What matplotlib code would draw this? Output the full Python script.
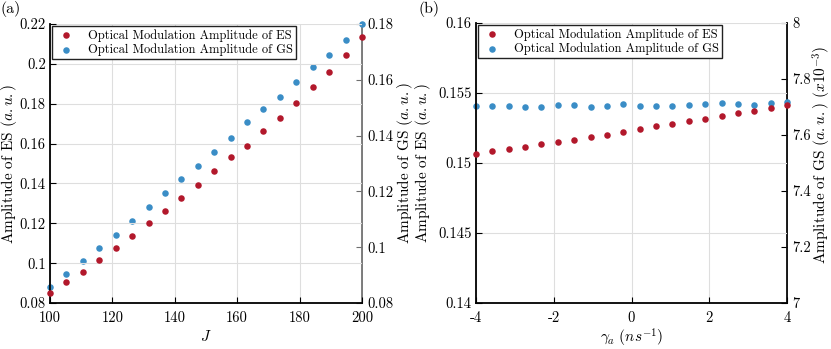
import numpy as np
import matplotlib.pyplot as plt

plt.rcParams['font.family'] = 'serif'
plt.rcParams['font.serif'] = ['cmr10']
plt.rcParams['mathtext.fontset'] = 'cm'
plt.rcParams['axes.unicode_minus'] = False

# (a) data
j_vals = np.linspace(100, 200, 20)
es_a = [0.0849, 0.0903, 0.0958, 0.1017, 0.1076, 0.1135, 0.1199, 0.1263, 0.1327, 0.1393,
        0.1461, 0.1531, 0.1588, 0.1662, 0.1726, 0.1802, 0.1882, 0.1961, 0.2046, 0.2133]
gs_a = [0.0856, 0.0904, 0.0949, 0.0996, 0.1045, 0.1094, 0.1144, 0.1194, 0.1245, 0.1290,
        0.1341, 0.1393, 0.1447, 0.1494, 0.1537, 0.1592, 0.1647, 0.1689, 0.1742, 0.1799]

# (b) data
gamma_vals = np.linspace(-4, 4, 20)
es_b = [0.15065, 0.15084, 0.15100, 0.15117, 0.15134, 0.15151, 0.15167, 0.15184, 0.15203, 0.15225,
        0.15242, 0.15261, 0.15280, 0.15297, 0.15316, 0.15337, 0.15354, 0.15373, 0.15392, 0.15414]
gs_b = [7.7033, 7.7033, 7.7021, 7.7009, 7.6997, 7.7057, 7.7057, 7.6997, 7.7033, 7.7093,
        7.7045, 7.7033, 7.7021, 7.7057, 7.7104, 7.7128, 7.7116, 7.7081, 7.7140, 7.7164]

red = '#b2182b'
blue = '#3a8dc6'
W, H = 831, 349
fig = plt.figure(figsize=(W / 100, H / 100), dpi=100)


def panel(rect, x, es, gs, xlim, xticks, xlabels, ylim1, yt1, yl1, ylim2, yt2, yl2,
          xlab, ylab1, ylab2, right_col, lab_left, lab_right, xpad):
    ax = fig.add_axes(rect)
    ax2 = ax.twinx()
    ax.set_zorder(ax2.get_zorder() + 1)
    ax.patch.set_visible(False)
    h1 = ax.scatter(x, es, s=22, color=red, zorder=3, clip_on=False, linewidths=0,
                    label='Optical Modulation Amplitude of ES')
    h2 = ax2.scatter(x, gs, s=22, color=blue, zorder=3, clip_on=False, linewidths=0,
                     label='Optical Modulation Amplitude of GS')
    ax.set_xlim(*xlim)
    ax.set_ylim(*ylim1)
    ax2.set_ylim(*ylim2)
    ax.set_xticks(xticks)
    ax.set_xticklabels(xlabels)
    ax.set_yticks(yt1)
    ax.set_yticklabels(yl1)
    ax2.set_yticks(yt2)
    ax2.set_yticklabels(yl2)
    ax.grid(True, color='#dedede', lw=0.8)
    ax.set_axisbelow(True)
    for a in (ax, ax2):
        a.spines['top'].set_visible(False)
        a.tick_params(labelsize=10.5, direction='in', length=4)
    ax.tick_params(axis='x', pad=6)
    ax.tick_params(axis='y', pad=3)
    ax2.tick_params(axis='y', pad=4)
    ax2.spines['left'].set_visible(False)
    ax2.spines['bottom'].set_visible(False)
    ax.spines['right'].set_visible(False)
    ax.spines['left'].set_linewidth(1.3)
    ax.spines['bottom'].set_linewidth(1.3)
    ax2.spines['right'].set_linewidth(1.3)
    ax2.spines['right'].set_color(right_col)
    ax2.tick_params(axis='y', colors=right_col, labelcolor='black')
    ax.set_xlabel(xlab, fontsize=11, labelpad=xpad)
    ax.set_ylabel(ylab1, fontsize=11)
    ax2.set_ylabel(ylab2, fontsize=11)
    ax.yaxis.set_label_coords(*lab_left)
    ax2.yaxis.set_label_coords(*lab_right)
    leg = ax.legend(handles=[h1, h2], loc='upper left', fontsize=9, fancybox=False,
                    framealpha=1, edgecolor='#222222', borderaxespad=0.15,
                    handletextpad=0.8, borderpad=0.25, labelspacing=0.15, handlelength=1.8)
    leg.get_frame().set_linewidth(1.0)
    return ax, ax2


panel([50 / W, 1 - 303 / H, 312 / W, 279 / H], j_vals, es_a, gs_a,
      (100, 200), [100, 120, 140, 160, 180, 200], ['100', '120', '140', '160', '180', '200'],
      (0.08, 0.22), [0.08, 0.1, 0.12, 0.14, 0.16, 0.18, 0.2, 0.22],
      ['0.08', '0.1', '0.12', '0.14', '0.16', '0.18', '0.2', '0.22'],
      (0.08, 0.18), [0.08, 0.1, 0.12, 0.14, 0.16, 0.18],
      ['0.08', '0.1', '0.12', '0.14', '0.16', '0.18'],
      r'$J$', r'Amplitude of ES $(a.u.)$', r'Amplitude of GS $(a.u.)$', '#6e6e6e',
      (-0.099, 0.5), (1.106, 0.5), 3)

panel([476 / W, 1 - 303 / H, 311 / W, 280 / H], gamma_vals, es_b, gs_b,
      (-4, 4), [-4, -2, 0, 2, 4], ['-4', '-2', '0', '2', '4'],
      (0.14, 0.16), [0.14, 0.145, 0.15, 0.155, 0.16],
      ['0.14', '0.145', '0.15', '0.155', '0.16'],
      (7, 8), [7, 7.2, 7.4, 7.6, 7.8, 8],
      ['7', '7.2', '7.4', '7.6', '7.8', '8'],
      r'$\gamma_a\ (ns^{-1})$', r'Amplitude of ES $(a.u.)$',
      r'Amplitude of GS $(a.u.)$ $(x10^{-3})$', 'black',
      (-0.138, 0.5), (1.077, 0.53), 1)

fig.text(1 / W, 1 - 1 / H, '(a)', fontsize=11.5, va='top')
fig.text(418 / W, 1 - 1 / H, '(b)', fontsize=11.5, va='top')

fig.savefig('out.png', dpi=100)
